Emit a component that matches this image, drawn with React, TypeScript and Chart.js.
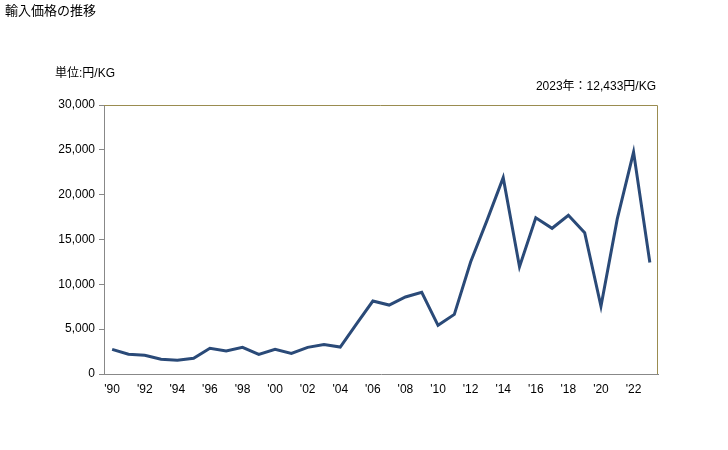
import React, { useEffect, useRef } from "react";
import { Chart, registerables } from "chart.js";

Chart.register(...registerables);

const years = [
  "1990","1991","1992","1993","1994","1995","1996","1997","1998","1999",
  "2000","2001","2002","2003","2004","2005","2006","2007","2008","2009",
  "2010","2011","2012","2013","2014","2015","2016","2017","2018","2019",
  "2020","2021","2022","2023",
];
const prices = [
  2750, 2200, 2080, 1640, 1530, 1750, 2870, 2560, 2970, 2190,
  2750, 2300, 2970, 3300, 3010, 5600, 8140, 7690, 8590, 9110,
  5430, 6650, 12490, 17100, 21900, 11970, 17430, 16250, 17700, 15760,
  7550, 17300, 24750, 12433,
];
const yTicks = [0, 5000, 10000, 15000, 20000, 25000, 30000];

const titleText = "輸入価格の推移";
const unitText = "単位:円/KG";
const noteText = "2023年：12,433円/KG";

const FONT = "'Liberation Sans', 'Noto Sans CJK JP', sans-serif";

const frame = {
  id: "frame",
  afterDraw(chart: any) {
    const { ctx, chartArea } = chart;
    ctx.save();
    ctx.strokeStyle = "#9a8c50";
    ctx.lineWidth = 1;
    ctx.beginPath();
    ctx.moveTo(chartArea.left, chartArea.top + 0.5);
    ctx.lineTo(chartArea.right - 0.5, chartArea.top + 0.5);
    ctx.lineTo(chartArea.right - 0.5, chartArea.bottom);
    ctx.stroke();
    ctx.restore();
  },
};

export default function App() {
  const ref = useRef<HTMLCanvasElement | null>(null);
  useEffect(() => {
    if (!ref.current) return;
    const chart = new Chart(ref.current, {
      type: "line",
      data: {
        labels: years,
        datasets: [
          {
            data: prices,
            borderColor: "#2a4a78",
            borderWidth: 3,
            pointRadius: 0,
            tension: 0,
            fill: false,
          },
        ],
      },
      options: {
        animation: false,
        responsive: false,
        layout: { padding: { left: 0, right: 70, top: 105, bottom: 0 } },
        plugins: { legend: { display: false }, tooltip: { enabled: false } },
        scales: {
          x: {
            offset: true,
            grid: { display: false, drawTicks: false },
            border: { display: true, color: "#888888", width: 1 },
            ticks: {
              autoSkip: false,
              maxRotation: 0,
              padding: 8,
              color: "#000",
              font: { family: FONT, size: 12 },
              callback: (_v: any, i: number) =>
                i % 2 === 0 ? "'" + years[i].slice(2) : "",
            },
            afterFit: (s: any) => {
              s.height = 76;
            },
          },
          y: {
            min: 0,
            max: 30000,
            afterBuildTicks: (s: any) => {
              s.ticks = yTicks.map((v) => ({ value: v }));
            },
            grid: {
              drawOnChartArea: false,
              drawTicks: true,
              tickLength: 5,
              color: "#888888",
            },
            border: { display: true, color: "#888888", width: 1 },
            ticks: {
              padding: 4,
              color: "#000",
              font: { family: FONT, size: 12 },
              callback: (v: any) => Number(v).toLocaleString("en-US"),
            },
            afterFit: (s: any) => {
              s.width = 104;
            },
          },
        },
      },
      plugins: [frame],
    });
    return () => chart.destroy();
  }, []);

  const textStyle: React.CSSProperties = {
    position: "absolute",
    fontFamily: FONT,
    color: "#000",
    whiteSpace: "nowrap",
    lineHeight: 1,
  };

  return (
    <div style={{ position: "fixed", left: 0, top: 0, width: 728, height: 450, background: "#fff" }}>
      <canvas ref={ref} width={728} height={450} style={{ position: "absolute", left: 0, top: 0 }} />
      <div style={{ ...textStyle, left: 5, top: 4, fontSize: 13 }}>{titleText}</div>
      <div style={{ ...textStyle, left: 55, top: 67, fontSize: 12 }}>{unitText}</div>
      <div style={{ ...textStyle, right: 72, top: 80, fontSize: 12 }}>{noteText}</div>
    </div>
  );
}
